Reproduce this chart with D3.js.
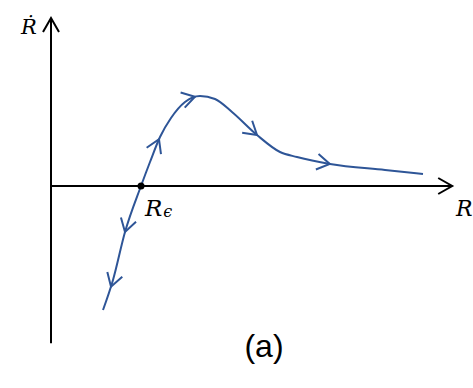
<!DOCTYPE html>
<html><head><meta charset="utf-8">
<script src="https://cdn.jsdelivr.net/npm/d3@7"></script>
<style>html,body{margin:0;padding:0;background:#fff;}</style>
</head><body>
<svg id="chart" width="473" height="388"></svg>
<script>
// Trajectory (R, Rdot) in arbitrary units
const curveR    = [1.3, 1.55, 1.85, 2.25, 2.475, 2.725, 3.0, 3.35, 3.725, 4.1, 4.525, 5.15, 5.725, 6.15, 6.975, 8.35, 9.3];
const curveRdot = [-3.1, -2.35, -1.15, 0, 0.6, 1.225, 1.7, 2.1, 2.25, 2.175, 1.85, 1.275, 0.85, 0.725, 0.55, 0.4, 0.3];
// Flow arrows: position along R and direction (+1 along increasing R, -1 reversed)
const arrowR   = [1.5, 1.85, 2.7, 3.6, 5.15, 6.97];
const arrowDir = [-1, -1, 1, 1, 1, 1];
const fixedPointR = 2.25;
const labels = {x: "R", y: "Ṙ", fp: "R", fpSub: "ϵ", panel: "(a)"};

const svg = d3.select("#chart");
const x = d3.scaleLinear().domain([0, 10]).range([51, 451]);
const y = d3.scaleLinear().domain([-4, 4.2]).range([346, 18]);
const blue = "#2E5597";

// axes
svg.append("line").attr("x1", x(0)).attr("x2", x(0)).attr("y1", y(-3.93)).attr("y2", y(4.2))
  .attr("stroke", "#000").attr("stroke-width", 2);
svg.append("line").attr("x1", x(0)).attr("x2", x(10.03)).attr("y1", y(0)).attr("y2", y(0))
  .attr("stroke", "#000").attr("stroke-width", 2);
// axis arrowheads
svg.append("path").attr("d", `M${x(0)-8},${y(4.2)+14}L${x(0)},${y(4.2)}L${x(0)+8},${y(4.2)+14}`)
  .attr("fill", "none").attr("stroke", "#000").attr("stroke-width", 2);
svg.append("path").attr("d", `M${x(10.03)-14},${y(0)-8}L${x(10.03)},${y(0)}L${x(10.03)-14},${y(0)+8}`)
  .attr("fill", "none").attr("stroke", "#000").attr("stroke-width", 2);

// curve
const pts = curveR.map((r, i) => [r, curveRdot[i]]);
const line = d3.line().x(d => x(d[0])).y(d => y(d[1])).curve(d3.curveMonotoneX);
const path = svg.append("path").attr("d", line(pts)).attr("fill", "none")
  .attr("stroke", blue).attr("stroke-width", 2);

// arrows along curve
const node = path.node();
const total = node.getTotalLength();
function lengthAtX(px) {
  let lo = 0, hi = total;
  for (let k = 0; k < 40; k++) {
    const mid = (lo + hi) / 2;
    if (node.getPointAtLength(mid).x < px) lo = mid; else hi = mid;
  }
  return (lo + hi) / 2;
}
arrowR.forEach((r, i) => {
  const L = lengthAtX(x(r));
  const p = node.getPointAtLength(L);
  const p2 = node.getPointAtLength(Math.min(total, L + 1));
  const p1 = node.getPointAtLength(Math.max(0, L - 1));
  let ang = Math.atan2(p2.y - p1.y, p2.x - p1.x);
  if (arrowDir[i] < 0) ang += Math.PI;
  const w = 15, half = 0.55;
  const a1 = ang + Math.PI - half, a2 = ang + Math.PI + half;
  svg.append("path")
    .attr("d", `M${p.x + w*Math.cos(a1)},${p.y + w*Math.sin(a1)}L${p.x},${p.y}L${p.x + w*Math.cos(a2)},${p.y + w*Math.sin(a2)}`)
    .attr("fill", "none").attr("stroke", blue).attr("stroke-width", 2);
});

// fixed point
svg.append("circle").attr("cx", x(fixedPointR)).attr("cy", y(0)).attr("r", 3.5).attr("fill", "#000");

// labels
const serif = "'DejaVu Serif', 'Liberation Serif', serif";
svg.append("text").attr("x", 21).attr("y", 34).attr("font-family", serif).attr("font-style", "italic")
  .attr("font-size", 21).text(labels.y);
svg.append("text").attr("x", 456).attr("y", 216).attr("font-family", serif).attr("font-style", "italic")
  .attr("font-size", 22).text(labels.x);
const fp = svg.append("text").attr("x", 145).attr("y", 216).attr("font-family", serif).attr("font-style", "italic")
  .attr("font-size", 23);
fp.append("tspan").text(labels.fp);
fp.append("tspan").attr("dy", 1).attr("dx", 1).attr("font-size", 16).text(labels.fpSub);
svg.append("text").attr("x", 264).attr("y", 357).attr("text-anchor", "middle")
  .attr("font-family", "Arial, 'Liberation Sans', sans-serif").attr("font-size", 32).text(labels.panel);
</script>
</body></html>
